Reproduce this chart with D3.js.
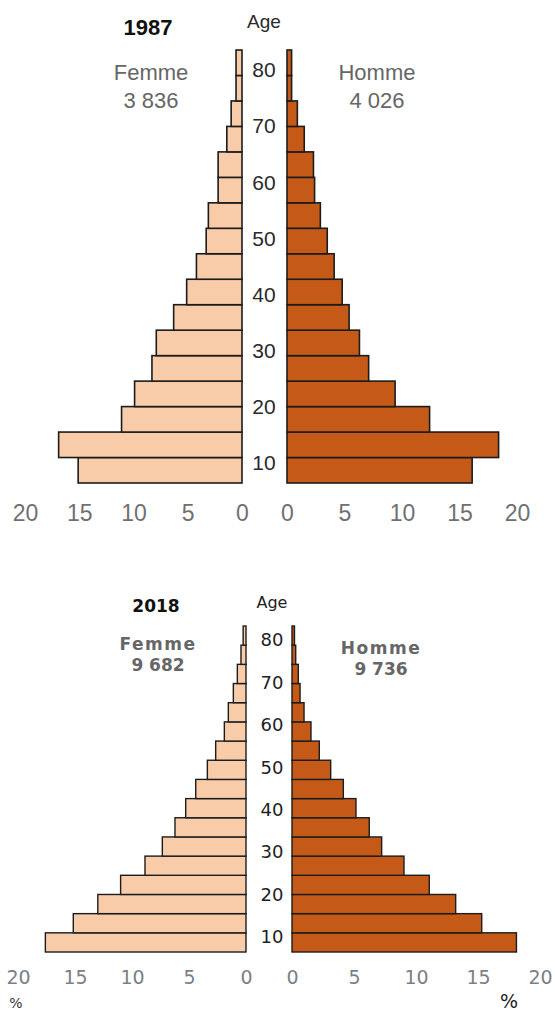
<!DOCTYPE html>
<html>
<head>
<meta charset="utf-8">
<script src="https://cdn.jsdelivr.net/npm/d3@7"></script>
<style>
  body { margin: 0; background: #fff; }
  svg { display: block; }
</style>
</head>
<body>
<svg id="chart" width="555" height="1014"></svg>
<script>
// age groups, youngest first (bottom bar first)
const ageGroups = ["0-4","5-9","10-14","15-19","20-24","25-29","30-34","35-39","40-44",
  "45-49","50-54","55-59","60-64","65-69","70-74","75-79","80+"];
const ageTicks = [10, 20, 30, 40, 50, 60, 70, 80];
const pctTicks = [0, 5, 10, 15, 20];

// percentages
const femme1987 = [15.1, 16.9, 11.1, 9.9, 8.3, 7.9, 6.3, 5.1, 4.2, 3.3, 3.1, 2.2, 2.2, 1.4, 1.0, 0.55, 0.55];
const homme1987 = [16.1, 18.4, 12.4, 9.4, 7.1, 6.3, 5.4, 4.8, 4.1, 3.5, 2.9, 2.4, 2.3, 1.5, 0.9, 0.4, 0.4];
const femme2018 = [17.6, 15.15, 13.0, 11.0, 8.86, 7.34, 6.23, 5.29, 4.41, 3.39, 2.66, 1.9, 1.55, 1.11, 0.76, 0.44, 0.25];
const homme2018 = [18.1, 15.3, 13.2, 11.07, 9.03, 7.23, 6.23, 5.16, 4.14, 3.12, 2.2, 1.53, 0.97, 0.65, 0.51, 0.3, 0.2];

const totals1987 = { femme: "3 836", homme: "4 026" };
const totals2018 = { femme: "9 682", homme: "9 736" };

const svg = d3.select("#chart");

function pyramid(cfg, femme, homme, totals) {
  const g = svg.append("g");

  const y = d3.scaleBand().domain(ageGroups).range([cfg.bottom, cfg.top]).padding(0);
  const xL = d3.scaleLinear().domain([0, 20]).range(cfg.left);
  const xR = d3.scaleLinear().domain([0, 20]).range(cfg.right);
  const yAge = d3.scaleLinear().domain([10, 80]).range(cfg.ageRange);

  g.selectAll(".f").data(femme).join("rect")
    .attr("class", "f")
    .attr("x", d => xL(d))
    .attr("y", (d, i) => y(ageGroups[i]))
    .attr("width", d => xL(0) - xL(d))
    .attr("height", y.bandwidth())
    .attr("fill", "#f8cba9")
    .attr("stroke", "#1c1c1c")
    .attr("stroke-width", cfg.stroke);

  g.selectAll(".h").data(homme).join("rect")
    .attr("class", "h")
    .attr("x", xR(0))
    .attr("y", (d, i) => y(ageGroups[i]))
    .attr("width", d => xR(d) - xR(0))
    .attr("height", y.bandwidth())
    .attr("fill", "#c55a18")
    .attr("stroke", "#1c1c1c")
    .attr("stroke-width", cfg.stroke);

  // percent axes
  [xL, xR].forEach(sc => {
    const ax = g.append("g")
      .attr("transform", `translate(0, ${cfg.tickY})`)
      .call(d3.axisBottom(sc).tickValues(pctTicks).tickSize(0).tickPadding(0));
    ax.select(".domain").remove();
    ax.selectAll("text")
      .attr("dy", 0)
      .style("font-family", cfg.font)
      .style("font-size", cfg.tickSize + "px")
      .style("fill", cfg.tickColor);
  });

  // age labels
  const ay = g.append("g")
    .attr("transform", `translate(${cfg.ageX}, 0)`)
    .call(d3.axisRight(yAge).tickValues(ageTicks).tickSize(0).tickPadding(0));
  ay.select(".domain").remove();
  ay.selectAll("text")
    .attr("text-anchor", "middle")
    .style("font-family", cfg.font)
    .style("font-size", cfg.ageSize + "px")
    .style("fill", cfg.ageColor);

  const txt = (x, yy, s, size, color, weight, ls) => g.append("text")
    .attr("x", x).attr("y", yy)
    .attr("text-anchor", "middle")
    .style("font-family", cfg.font)
    .style("font-size", size + "px")
    .style("font-weight", weight)
    .style("letter-spacing", (ls || 0) + "px")
    .style("fill", color)
    .text(s);

  txt(cfg.ageX, cfg.ageTitleY, "Age", cfg.ageTitleSize, cfg.ageColor, "normal");
  txt(cfg.yearX, cfg.yearY, cfg.year, cfg.yearSize, "#111", "bold");
  txt(cfg.fX, cfg.labY, "Femme", cfg.labSize, "#666", cfg.labWeight, cfg.labLs);
  txt(cfg.fX, cfg.numY, totals.femme, cfg.labSize, "#666", cfg.labWeight);
  txt(cfg.hX, cfg.labY + cfg.hShift, "Homme", cfg.labSize, "#666", cfg.labWeight, cfg.labLs);
  txt(cfg.hX, cfg.numY + cfg.hShift, totals.homme, cfg.labSize, "#666", cfg.labWeight);
  return g;
}

pyramid({
  top: 50, bottom: 483, left: [242, 25], right: [287, 517],
  ageRange: [463, 70], ageX: 264, stroke: 1.6,
  font: "'Liberation Sans', Arial, sans-serif",
  tickY: 521, tickSize: 23, tickColor: "#707070",
  ageSize: 21, ageColor: "#2a2a2a",
  ageTitleY: 28, ageTitleSize: 19,
  year: "1987", yearX: 148, yearY: 35, yearSize: 22,
  fX: 151, hX: 377, labY: 80, numY: 108, hShift: 0,
  labSize: 22, labWeight: "normal", labLs: 0
}, femme1987, homme1987, totals1987);

const g2 = pyramid({
  top: 626, bottom: 952, left: [246, 18], right: [292, 540],
  ageRange: [937, 640], ageX: 272, stroke: 1.4,
  font: "'DejaVu Sans', Verdana, sans-serif",
  tickY: 984, tickSize: 19, tickColor: "#7b7f87",
  ageSize: 18, ageColor: "#222",
  ageTitleY: 608, ageTitleSize: 16,
  year: "2018", yearX: 156, yearY: 612, yearSize: 17,
  fX: 158, hX: 381, labY: 650, numY: 671, hShift: 4,
  labSize: 17, labWeight: "bold", labLs: 1.5
}, femme2018, homme2018, totals2018);

g2.append("text").attr("x", 16).attr("y", 1008).attr("text-anchor", "middle")
  .style("font-family", "'DejaVu Sans', sans-serif").style("font-size", "14px")
  .style("fill", "#333").text("%");
g2.append("text").attr("x", 509).attr("y", 1008).attr("text-anchor", "middle")
  .style("font-family", "'DejaVu Sans', sans-serif").style("font-size", "19px")
  .style("fill", "#222").text("%");
</script>
</body>
</html>
